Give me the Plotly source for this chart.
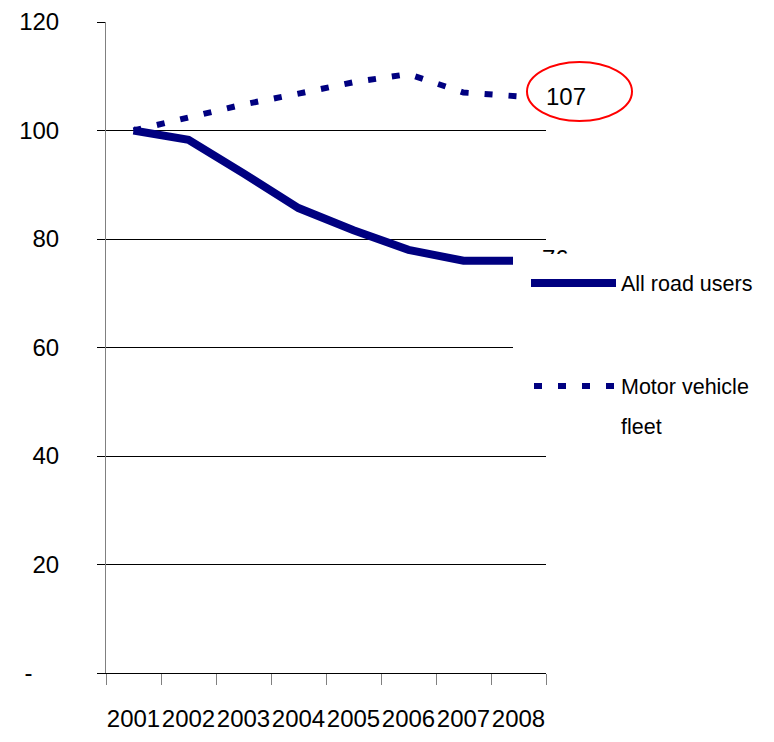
import plotly.graph_objects as go

years = ["2001", "2002", "2003", "2004", "2005", "2006", "2007", "2008"]
all_road_users = [100, 98.3, 92.1, 85.7, 81.6, 78.0, 76.0, 76.0]
motor_vehicle_fleet = [100, 102.4, 104.8, 106.8, 108.9, 110.4, 107.0, 106.3]
y_tick_vals = [0, 20, 40, 60, 80, 100, 120]
y_tick_text = ["-\u00a0\u00a0\u00a0\u00a0", "20", "40", "60", "80", "100", "120"]
label_all_road = "76"
label_fleet = "107"

NAVY = "#000080"
OFF = 8  # page body margin in the browser
W, H = 774 - OFF, 742 - OFF
L, T = 106 - OFF, 22 - OFF
PW, PH = 440, 651
R, B = W - L - PW, H - T - PH


def px(x):
    """screen pixel x -> paper"""
    return (x - OFF - L) / PW


def py(y):
    """screen pixel y -> paper"""
    return (T + PH - (y - OFF)) / PH


FONT = "Liberation Sans, Arial, sans-serif"

fig = go.Figure()
fig.add_trace(go.Scatter(x=years, y=motor_vehicle_fleet, mode="lines",
                         line=dict(color=NAVY, width=6, dash="8px,16px"),
                         name="Motor vehicle fleet", showlegend=False))
fig.add_trace(go.Scatter(x=years, y=all_road_users, mode="lines",
                         line=dict(color=NAVY, width=8),
                         name="All road users", showlegend=False))
# data label for last point of "All road users" (partly hidden by legend box)
fig.add_trace(go.Scatter(x=[years[-1]], y=[all_road_users[-1]], mode="markers+text",
                         marker=dict(size=36, opacity=0), text=[label_all_road],
                         textposition="middle right", cliponaxis=False,
                         textfont=dict(family=FONT, size=24, color="black"),
                         showlegend=False, hoverinfo="skip"))

fig.update_xaxes(type="category", range=[-0.5, len(years) - 0.5], tickson="boundaries",
                 ticks="outside", ticklen=11,
                 tickcolor="#808080", showline=True, linecolor="black", linewidth=1,
                 showgrid=False, tickfont=dict(family=FONT, size=24, color="black"),
                 tickangle=0, automargin=False, ticklabelstandoff=24)
fig.update_yaxes(range=[0, 120], tickvals=y_tick_vals, ticktext=y_tick_text,
                 ticks="outside", ticklen=8, tickcolor="black",
                 showline=True, linecolor="#808080", linewidth=1,
                 showgrid=True, gridcolor="black", gridwidth=1, zeroline=False,
                 tickfont=dict(family=FONT, size=24, color="black"),
                 automargin=False, ticklabelstandoff=33)

shapes = [
    # legend background (covers part of plot)
    dict(type="rect", xref="paper", yref="paper", x0=px(513), x1=px(774), y0=py(455), y1=py(254),
         fillcolor="white", line=dict(width=0), layer="above"),
    dict(type="line", xref="paper", yref="paper", x0=px(531), x1=px(616), y0=py(283), y1=py(283),
         line=dict(color=NAVY, width=8), layer="above"),
    dict(type="line", xref="paper", yref="paper", x0=px(534), x1=px(614), y0=py(386), y1=py(386),
         line=dict(color=NAVY, width=6, dash="8px,16px"), layer="above"),
    # red ellipse around 107
    dict(type="circle", xref="paper", yref="paper", x0=px(527), x1=px(632), y0=py(121), y1=py(62),
         line=dict(color="red", width=2), layer="above"),
]

annotations = [
    dict(xref="paper", yref="paper", x=px(544), y=py(97), text=label_fleet, showarrow=False,
         xanchor="left", yanchor="middle", font=dict(family=FONT, size=24, color="black")),
    dict(xref="paper", yref="paper", x=px(619), y=py(284), text="All road users", showarrow=False,
         xanchor="left", yanchor="middle", font=dict(family=FONT, size=21.5, color="black")),
    dict(xref="paper", yref="paper", x=px(619), y=py(387), text="Motor vehicle", showarrow=False,
         xanchor="left", yanchor="middle", font=dict(family=FONT, size=21.5, color="black")),
    dict(xref="paper", yref="paper", x=px(619), y=py(427), text="fleet", showarrow=False,
         xanchor="left", yanchor="middle", font=dict(family=FONT, size=21.5, color="black")),
]

fig.update_layout(width=W, height=H, margin=dict(l=L, r=R, t=T, b=B, autoexpand=False),
                  paper_bgcolor="white", plot_bgcolor="white", showlegend=False,
                  shapes=shapes, annotations=annotations)

fig.write_html("out.html")
